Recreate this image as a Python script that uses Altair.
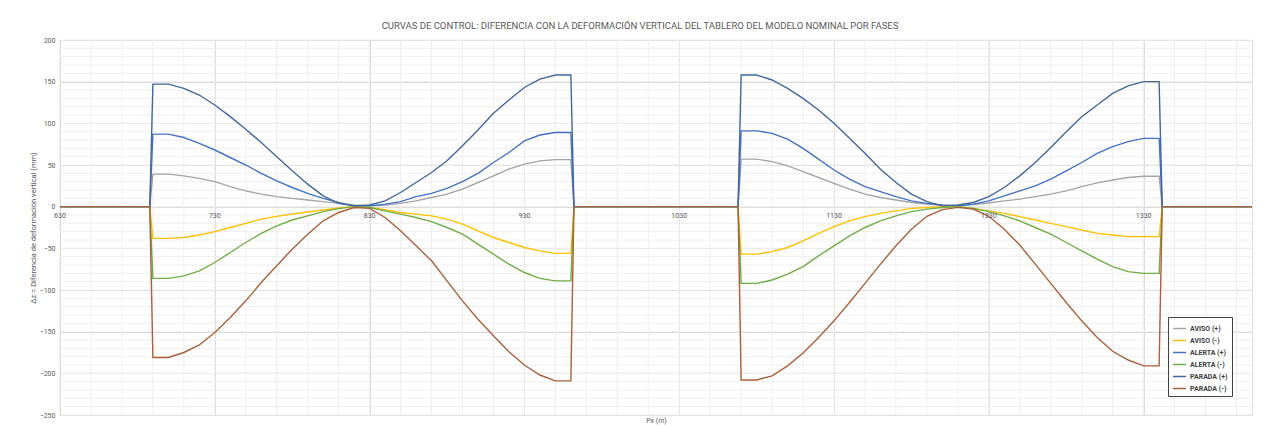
import altair as alt
import pandas as pd

title_text = "CURVAS DE CONTROL: DIFERENCIA CON LA DEFORMACIÓN VERTICAL DEL TABLERO DEL MODELO NOMINAL POR FASES"
y_title = "Δz = Diferencia de deformación vertical (mm)"
x_title = "Px (m)"

series_names = ["AVISO (+)", "AVISO (-)", "ALERTA (+)", "ALERTA (-)", "PARADA (+)", "PARADA (-)"]
series_colors = ["#A5A5A5", "#FFC000", "#4472C4", "#70AD47", "#41679C", "#AA6039"]

# x positions (m)
x_start = [630, 688]
x_span1 = [690, 700, 710, 720, 730, 740, 750, 760, 770, 780, 790, 800, 810, 820,
           830, 840, 850, 860, 870, 880, 890, 900, 910, 920, 930, 940, 950, 960]
x_gap = [962, 1068]
x_span2 = [1070, 1080, 1090, 1100, 1110, 1120, 1130, 1140, 1150, 1160, 1170, 1180, 1190, 1200,
           1210, 1220, 1230, 1240, 1250, 1260, 1270, 1280, 1290, 1300, 1310, 1320, 1330, 1340]
x_end = [1342, 1400]

# first span values
aviso_pos_1 = [39, 39, 37, 34, 30, 24, 19, 15, 12, 10, 8, 6, 4, 2, 1, 2, 4, 7, 11, 15, 21, 29, 37, 45, 51, 55, 56.5, 56.5]
aviso_neg_1 = [-38, -38, -37, -34, -30, -25, -20, -15, -11.6, -8.8, -6.4, -4, -1.6, 0, -1, -3.6, -7, -9, -11, -15, -21, -29, -37, -43, -49, -53, -56, -56]
alerta_pos_1 = [87, 87, 83, 76, 68, 59, 50, 40, 31, 23, 16, 10, 5, 1, 1, 3, 6, 12, 16, 22, 30, 40, 53, 65, 79, 86, 89, 89]
alerta_neg_1 = [-86, -86, -83, -77, -67, -55, -43, -32, -23, -16, -11, -6, -2.4, 0, -1, -5, -9, -13, -18, -25, -33, -45, -57, -69, -79, -86, -89, -89]
parada_pos_1 = [147, 147, 142, 134, 122, 108, 93, 77, 60, 43, 27, 13, 4, 1, 2, 7, 17, 29, 41, 55, 73, 92, 112, 128, 143, 153, 158, 158]
parada_neg_1 = [-181, -181, -175, -166, -151, -133, -113, -91, -71, -51, -33, -17, -7, -1, -2, -13, -29, -47, -65, -89, -113, -135, -155, -174, -190, -202, -209, -209]

# second span values
aviso_pos_2 = [57, 57, 54, 49, 42, 35, 28, 21, 15, 11, 8, 5, 3, 1.5, 1, 2.4, 4.4, 7, 9, 12, 15, 19, 24, 28.5, 32, 35, 36.5, 36.5]
aviso_neg_2 = [-57, -57, -54, -49, -41, -32, -24, -17, -12, -8, -5, -2, -1, 0, 0, -2, -5, -8, -12, -16, -20, -24, -28, -32, -34, -36, -36, -36]
alerta_pos_2 = [91, 91, 88, 81, 70, 57, 44, 33, 24, 18, 12, 7, 4, 2, 1, 3, 7, 13, 19, 25, 33, 43, 53, 64, 72, 78, 82, 82]
alerta_neg_2 = [-92, -92, -88, -81, -72, -59, -47, -35, -25, -17, -11, -6, -3, -1, 0, -2, -6, -11, -17, -25, -33, -43, -53, -63, -72, -78, -80, -80]
parada_pos_2 = [158, 158, 152, 142, 130, 116, 100, 82, 64, 45, 29, 15, 6, 1, 2, 5, 12, 23, 37, 53, 71, 90, 108, 122, 136, 145, 150, 150]
parada_neg_2 = [-208, -208, -203, -191, -175.5, -157, -137, -115, -92, -69, -47, -27, -11.6, -3.6, -0.8, -2.8, -11.6, -27, -46, -69, -92, -115, -137, -157, -173.5, -184, -191, -191]

zeros_pair = [0, 0]

x_ticks = [630, 730, 830, 930, 1030, 1130, 1230, 1330]
x_tick_labels = ["630", "730", "830", "930", "1030", "1130", "1230", "1330"]
y_ticks = [-250, -200, -150, -100, -50, 0, 50, 100, 150, 200]

span_data = {
    "AVISO (+)": (aviso_pos_1, aviso_pos_2),
    "AVISO (-)": (aviso_neg_1, aviso_neg_2),
    "ALERTA (+)": (alerta_pos_1, alerta_pos_2),
    "ALERTA (-)": (alerta_neg_1, alerta_neg_2),
    "PARADA (+)": (parada_pos_1, parada_pos_2),
    "PARADA (-)": (parada_neg_1, parada_neg_2),
}

xs_all = x_start + x_span1 + x_gap + x_span2 + x_end
rows = []
for order, name in enumerate(series_names):
    s1, s2 = span_data[name]
    ys = zeros_pair + s1 + zeros_pair + s2 + zeros_pair
    for xv, yv in zip(xs_all, ys):
        rows.append({"serie": name, "px": xv, "dz": yv, "ord": order})
df = pd.DataFrame(rows)

FONT = "Roboto, sans-serif"
TXT = "#595959"

x_scale = alt.Scale(domain=[630, 1400], nice=False, zero=False)
y_scale = alt.Scale(domain=[-250, 200], nice=False, zero=False)

minor_x = pd.DataFrame({"v": list(range(630, 1400, 20))})
minor_y = pd.DataFrame({"v": list(range(-250, 201, 10))})

minor_x_rules = alt.Chart(minor_x).mark_rule(color="#eeeeee", strokeWidth=1).encode(
    x=alt.X("v:Q", scale=x_scale)
)
minor_y_rules = alt.Chart(minor_y).mark_rule(color="#eeeeee", strokeWidth=1).encode(
    y=alt.Y("v:Q", scale=y_scale)
)

lines = alt.Chart(df).mark_line(strokeWidth=1.4).encode(
    x=alt.X("px:Q", scale=x_scale,
            axis=alt.Axis(values=x_ticks, grid=True, gridColor="#d9d9d9", labels=False,
                          ticks=False, domain=False, title=x_title, titleFontSize=7,
                          titleFontWeight="normal", titleColor=TXT, titleFont=FONT,
                          titlePadding=1)),
    y=alt.Y("dz:Q", scale=y_scale,
            axis=alt.Axis(values=y_ticks, grid=True, gridColor="#d9d9d9", ticks=False,
                          domain=True, domainColor="#bfbfbf", labelFontSize=7,
                          labelColor=TXT, labelFont=FONT, labelPadding=5,
                          title=y_title, titleFontSize=7.5, titleFontWeight="normal",
                          titleColor=TXT, titleFont=FONT, titlePadding=2)),
    color=alt.Color("serie:N", scale=alt.Scale(domain=series_names, range=series_colors),
                    legend=alt.Legend(title=None, orient="none", legendX=1108, legendY=277,
                                      symbolType="stroke", symbolSize=169,
                                      symbolStrokeWidth=1.5, labelFontSize=7,
                                      labelFontWeight="bold", labelColor="#404040",
                                      labelFont=FONT, strokeColor="#404040",
                                      fillColor="white", padding=4, rowPadding=1,
                                      labelOffset=3)),
    order=alt.Order("ord:Q"),
)

tick_df = pd.DataFrame({"x": x_ticks, "label": x_tick_labels})
tick_text = alt.Chart(tick_df).mark_text(dy=9, fontSize=7, color=TXT, font=FONT).encode(
    x=alt.X("x:Q", scale=x_scale),
    y=alt.datum(0),
    text="label:N",
)

chart = alt.layer(minor_x_rules, minor_y_rules, lines, tick_text).properties(
    width=1192,
    height=375,
    title=alt.TitleParams(title_text, fontSize=9.5, color=TXT, font=FONT,
                          fontWeight="normal", anchor="middle", offset=6, dx=-16),
    autosize=alt.AutoSizeParams(type="none"),
    padding={"left": 52, "top": 32, "right": 16, "bottom": 12},
).configure_view(stroke=None).configure(background="white")

chart.save("out.html", embed_options={"renderer": "svg", "actions": False})
